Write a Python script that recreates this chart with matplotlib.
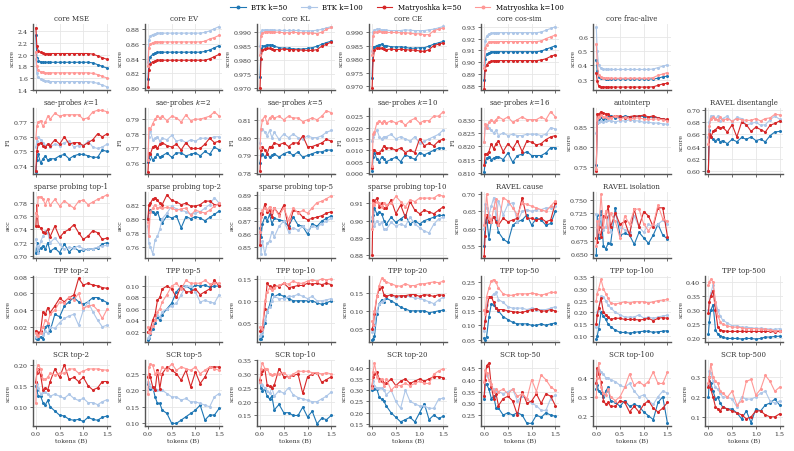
import matplotlib
matplotlib.use("Agg")
import matplotlib.pyplot as plt

plt.rcParams['font.family'] = ['DejaVu Serif']

# x positions (tokens, billions)
tokens = [0.0, 0.02, 0.05, 0.1, 0.15, 0.2, 0.25, 0.3, 0.4, 0.5,
          0.6, 0.7, 0.8, 0.9, 1.0, 1.1, 1.2, 1.3, 1.4, 1.5]

series_names = ['BTK k=50', 'BTK k=100', 'Matryoshka k=50', 'Matryoshka k=100']
series_colors = ['#1f77b4', '#aec7e8', '#d62728', '#ff9896']

# each panel: [BTK k=50, BTK k=100, Matryoshka k=50, Matryoshka k=100]
core_mse = [
    [2.33, 1.95, 1.90, 1.88, 1.87, 1.87, 1.87, 1.87, 1.87, 1.87, 1.87, 1.87, 1.87, 1.87, 1.87, 1.87, 1.86, 1.83, 1.80, 1.77],
    [1.92, 1.68, 1.62, 1.58, 1.56, 1.55, 1.55, 1.54, 1.54, 1.54, 1.54, 1.54, 1.54, 1.54, 1.54, 1.54, 1.53, 1.51, 1.48, 1.45],
    [2.46, 2.15, 2.07, 2.04, 2.03, 2.02, 2.02, 2.02, 2.02, 2.02, 2.02, 2.02, 2.02, 2.02, 2.02, 2.02, 2.01, 1.98, 1.95, 1.92],
    [2.05, 1.80, 1.73, 1.71, 1.70, 1.69, 1.69, 1.69, 1.69, 1.69, 1.69, 1.69, 1.69, 1.69, 1.69, 1.69, 1.68, 1.66, 1.63, 1.60],
]
core_ev = [
    [0.812, 0.835, 0.843, 0.846, 0.848, 0.849, 0.849, 0.849, 0.849, 0.849, 0.849, 0.849, 0.849, 0.849, 0.849, 0.849, 0.850, 0.852, 0.855, 0.858],
    [0.835, 0.865, 0.871, 0.873, 0.874, 0.875, 0.875, 0.875, 0.875, 0.875, 0.875, 0.875, 0.875, 0.875, 0.875, 0.875, 0.876, 0.878, 0.881, 0.884],
    [0.801, 0.825, 0.833, 0.836, 0.837, 0.838, 0.838, 0.838, 0.838, 0.838, 0.838, 0.838, 0.838, 0.838, 0.838, 0.838, 0.838, 0.840, 0.843, 0.846],
    [0.830, 0.855, 0.860, 0.862, 0.863, 0.863, 0.863, 0.863, 0.863, 0.863, 0.863, 0.863, 0.863, 0.863, 0.863, 0.863, 0.864, 0.867, 0.869, 0.872],
]
core_kl = [
    [0.9740, 0.9845, 0.9850, 0.9852, 0.9855, 0.9855, 0.9853, 0.9850, 0.9845, 0.9843, 0.9843, 0.9840, 0.9840, 0.9840, 0.9842, 0.9845, 0.9850, 0.9857, 0.9863, 0.9868],
    [0.9850, 0.9900, 0.9907, 0.9908, 0.9909, 0.9908, 0.9908, 0.9907, 0.9907, 0.9906, 0.9906, 0.9906, 0.9906, 0.9905, 0.9905, 0.9905, 0.9907, 0.9910, 0.9915, 0.9920],
    [0.9703, 0.9805, 0.9838, 0.9840, 0.9842, 0.9842, 0.9840, 0.9838, 0.9838, 0.9840, 0.9838, 0.9838, 0.9837, 0.9836, 0.9835, 0.9835, 0.9838, 0.9850, 0.9857, 0.9865],
    [0.9820, 0.9888, 0.9898, 0.9900, 0.9902, 0.9902, 0.9900, 0.9900, 0.9900, 0.9898, 0.9898, 0.9900, 0.9898, 0.9898, 0.9898, 0.9897, 0.9895, 0.9900, 0.9910, 0.9917],
]
core_ce = [
    [0.9730, 0.9845, 0.9845, 0.9850, 0.9852, 0.9855, 0.9850, 0.9850, 0.9845, 0.9845, 0.9845, 0.9843, 0.9840, 0.9840, 0.9842, 0.9842, 0.9848, 0.9855, 0.9860, 0.9865],
    [0.9830, 0.9900, 0.9908, 0.9910, 0.9910, 0.9908, 0.9908, 0.9906, 0.9905, 0.9905, 0.9905, 0.9908, 0.9906, 0.9905, 0.9905, 0.9905, 0.9908, 0.9910, 0.9915, 0.9920],
    [0.9693, 0.9795, 0.9835, 0.9840, 0.9840, 0.9840, 0.9838, 0.9835, 0.9837, 0.9835, 0.9836, 0.9835, 0.9833, 0.9833, 0.9830, 0.9828, 0.9835, 0.9850, 0.9855, 0.9860],
    [0.9815, 0.9885, 0.9898, 0.9900, 0.9902, 0.9900, 0.9900, 0.9898, 0.9898, 0.9898, 0.9897, 0.9897, 0.9895, 0.9893, 0.9893, 0.9890, 0.9890, 0.9905, 0.9910, 0.9915],
]
core_cossim = [
    [0.885, 0.903, 0.907, 0.908, 0.909, 0.909, 0.909, 0.909, 0.909, 0.909, 0.909, 0.909, 0.909, 0.909, 0.909, 0.909, 0.9095, 0.911, 0.9125, 0.914],
    [0.898, 0.918, 0.922, 0.924, 0.9245, 0.925, 0.925, 0.925, 0.925, 0.925, 0.925, 0.925, 0.925, 0.925, 0.925, 0.925, 0.9255, 0.927, 0.9285, 0.930],
    [0.878, 0.894, 0.898, 0.900, 0.901, 0.9015, 0.9015, 0.9015, 0.9015, 0.9015, 0.9015, 0.9015, 0.9015, 0.9015, 0.9015, 0.9015, 0.902, 0.903, 0.905, 0.9065],
    [0.895, 0.912, 0.915, 0.917, 0.9175, 0.9175, 0.9175, 0.9175, 0.9175, 0.9175, 0.9175, 0.9175, 0.9175, 0.9175, 0.9175, 0.9175, 0.918, 0.920, 0.9215, 0.923],
]
core_alive = [
    [0.44, 0.36, 0.32, 0.315, 0.31, 0.305, 0.305, 0.305, 0.305, 0.305, 0.305, 0.305, 0.305, 0.305, 0.305, 0.305, 0.305, 0.31, 0.32, 0.325],
    [0.67, 0.50, 0.40, 0.38, 0.375, 0.373, 0.372, 0.372, 0.372, 0.372, 0.372, 0.372, 0.372, 0.372, 0.372, 0.372, 0.375, 0.385, 0.395, 0.405],
    [0.35, 0.29, 0.255, 0.25, 0.25, 0.248, 0.248, 0.248, 0.248, 0.248, 0.248, 0.248, 0.248, 0.248, 0.248, 0.248, 0.25, 0.26, 0.27, 0.275],
    [0.55, 0.42, 0.33, 0.32, 0.315, 0.312, 0.31, 0.31, 0.31, 0.31, 0.31, 0.31, 0.31, 0.31, 0.31, 0.31, 0.315, 0.33, 0.34, 0.35],
]
sae_k1 = [
    [0.736, 0.744, 0.748, 0.742, 0.745, 0.747, 0.744, 0.745, 0.745, 0.747, 0.748, 0.745, 0.747, 0.748, 0.748, 0.747, 0.746, 0.746, 0.751, 0.750],
    [0.753, 0.757, 0.760, 0.758, 0.756, 0.754, 0.755, 0.753, 0.755, 0.754, 0.756, 0.757, 0.753, 0.754, 0.754, 0.757, 0.753, 0.752, 0.753, 0.755],
    [0.737, 0.750, 0.755, 0.756, 0.754, 0.753, 0.755, 0.754, 0.758, 0.755, 0.760, 0.755, 0.756, 0.756, 0.754, 0.756, 0.758, 0.762, 0.760, 0.762],
    [0.759, 0.767, 0.770, 0.771, 0.767, 0.770, 0.774, 0.772, 0.776, 0.774, 0.775, 0.775, 0.775, 0.775, 0.772, 0.773, 0.777, 0.778, 0.778, 0.777],
]
sae_k2 = [
    [0.761, 0.763, 0.766, 0.762, 0.764, 0.766, 0.764, 0.765, 0.767, 0.764, 0.767, 0.767, 0.765, 0.766, 0.767, 0.765, 0.768, 0.766, 0.771, 0.769],
    [0.762, 0.778, 0.782, 0.776, 0.777, 0.778, 0.775, 0.777, 0.776, 0.779, 0.775, 0.776, 0.774, 0.776, 0.775, 0.777, 0.777, 0.777, 0.778, 0.778],
    [0.754, 0.767, 0.766, 0.771, 0.772, 0.770, 0.773, 0.774, 0.772, 0.771, 0.773, 0.769, 0.774, 0.770, 0.770, 0.770, 0.773, 0.777, 0.774, 0.775],
    [0.762, 0.784, 0.783, 0.787, 0.790, 0.792, 0.791, 0.792, 0.789, 0.792, 0.791, 0.788, 0.793, 0.789, 0.790, 0.790, 0.791, 0.792, 0.795, 0.792],
]
sae_k5 = [
    [0.786, 0.790, 0.791, 0.789, 0.791, 0.789, 0.790, 0.791, 0.789, 0.791, 0.792, 0.790, 0.792, 0.789, 0.790, 0.791, 0.792, 0.792, 0.793, 0.793],
    [0.797, 0.804, 0.805, 0.803, 0.801, 0.804, 0.800, 0.803, 0.799, 0.802, 0.800, 0.802, 0.800, 0.799, 0.801, 0.800, 0.800, 0.801, 0.803, 0.804],
    [0.781, 0.793, 0.795, 0.793, 0.791, 0.795, 0.795, 0.797, 0.796, 0.797, 0.795, 0.797, 0.797, 0.801, 0.795, 0.795, 0.796, 0.797, 0.799, 0.798],
    [0.794, 0.805, 0.810, 0.812, 0.808, 0.811, 0.812, 0.811, 0.812, 0.810, 0.812, 0.811, 0.811, 0.809, 0.810, 0.811, 0.810, 0.812, 0.815, 0.814],
]
sae_k10 = [
    [0.001, 0.007, 0.009, 0.006, 0.005, 0.007, 0.006, 0.005, 0.006, 0.007, 0.005, 0.008, 0.007, 0.006, 0.009, 0.008, 0.009, 0.010, 0.011, 0.011],
    [0.014, 0.016, 0.017, 0.019, 0.016, 0.015, 0.016, 0.016, 0.017, 0.015, 0.016, 0.015, 0.014, 0.016, 0.013, 0.014, 0.015, 0.016, 0.017, 0.019],
    [0.002, 0.010, 0.010, 0.009, 0.009, 0.010, 0.012, 0.011, 0.011, 0.010, 0.011, 0.009, 0.010, 0.009, 0.015, 0.012, 0.013, 0.012, 0.014, 0.015],
    [0.003, 0.017, 0.018, 0.022, 0.023, 0.022, 0.023, 0.022, 0.023, 0.022, 0.023, 0.021, 0.023, 0.024, 0.022, 0.023, 0.023, 0.025, 0.025, 0.027],
]
sae_k16 = [
    [0.8105, 0.8140, 0.8155, 0.8160, 0.8150, 0.8155, 0.8160, 0.8160, 0.8150, 0.8175, 0.8140, 0.8165, 0.8170, 0.8180, 0.8165, 0.8165, 0.8165, 0.8175, 0.8195, 0.8195],
    [0.8215, 0.8270, 0.8280, 0.8270, 0.8260, 0.8250, 0.8260, 0.8240, 0.8250, 0.8240, 0.8245, 0.8240, 0.8240, 0.8245, 0.8245, 0.8245, 0.8240, 0.8245, 0.8270, 0.8265],
    [0.8130, 0.8170, 0.8170, 0.8180, 0.8210, 0.8190, 0.8210, 0.8220, 0.8180, 0.8210, 0.8190, 0.8220, 0.8180, 0.8220, 0.8215, 0.8205, 0.8210, 0.8225, 0.8235, 0.8240],
    [0.8215, 0.8285, 0.8270, 0.8290, 0.8300, 0.8290, 0.8300, 0.8310, 0.8300, 0.8310, 0.8290, 0.8300, 0.8310, 0.8300, 0.8300, 0.8300, 0.8310, 0.8300, 0.8330, 0.8310],
]
autointerp = [
    [0.755, 0.860, 0.870, 0.875, 0.870, 0.872, 0.875, 0.878, 0.872, 0.875, 0.877, 0.876, 0.875, 0.878, 0.876, 0.874, 0.875, 0.873, 0.870, 0.867],
    [0.835, 0.860, 0.862, 0.864, 0.862, 0.865, 0.867, 0.866, 0.863, 0.866, 0.865, 0.868, 0.866, 0.865, 0.862, 0.862, 0.860, 0.860, 0.858, 0.857],
    [0.740, 0.883, 0.882, 0.888, 0.885, 0.883, 0.882, 0.875, 0.878, 0.877, 0.873, 0.876, 0.878, 0.877, 0.880, 0.875, 0.878, 0.873, 0.870, 0.869],
    [0.745, 0.870, 0.876, 0.879, 0.874, 0.876, 0.873, 0.872, 0.877, 0.870, 0.874, 0.870, 0.872, 0.873, 0.870, 0.869, 0.870, 0.870, 0.868, 0.866],
]
ravel_dis = [
    [0.600, 0.668, 0.655, 0.652, 0.650, 0.652, 0.648, 0.650, 0.645, 0.652, 0.648, 0.655, 0.652, 0.656, 0.650, 0.652, 0.648, 0.658, 0.664, 0.665],
    [0.655, 0.680, 0.690, 0.690, 0.686, 0.690, 0.682, 0.686, 0.690, 0.680, 0.688, 0.686, 0.675, 0.678, 0.680, 0.675, 0.676, 0.684, 0.690, 0.685],
    [0.600, 0.660, 0.655, 0.665, 0.668, 0.672, 0.670, 0.672, 0.664, 0.676, 0.656, 0.680, 0.676, 0.665, 0.672, 0.668, 0.664, 0.675, 0.678, 0.682],
    [0.645, 0.673, 0.686, 0.688, 0.686, 0.684, 0.688, 0.683, 0.686, 0.682, 0.686, 0.684, 0.683, 0.683, 0.686, 0.682, 0.686, 0.687, 0.693, 0.692],
]
sp_top1 = [
    [0.704, 0.720, 0.708, 0.712, 0.715, 0.710, 0.720, 0.707, 0.712, 0.705, 0.718, 0.706, 0.713, 0.708, 0.709, 0.710, 0.711, 0.712, 0.718, 0.720],
    [0.725, 0.715, 0.705, 0.722, 0.730, 0.737, 0.735, 0.720, 0.727, 0.718, 0.710, 0.713, 0.712, 0.715, 0.711, 0.710, 0.711, 0.713, 0.715, 0.716],
    [0.745, 0.776, 0.745, 0.742, 0.736, 0.735, 0.740, 0.729, 0.745, 0.728, 0.736, 0.740, 0.747, 0.735, 0.725, 0.730, 0.738, 0.735, 0.725, 0.727],
    [0.765, 0.760, 0.788, 0.789, 0.785, 0.777, 0.786, 0.776, 0.785, 0.775, 0.783, 0.777, 0.772, 0.782, 0.784, 0.777, 0.781, 0.785, 0.788, 0.792],
]
sp_top2 = [
    [0.800, 0.810, 0.812, 0.810, 0.807, 0.810, 0.800, 0.794, 0.804, 0.801, 0.804, 0.787, 0.803, 0.800, 0.803, 0.801, 0.797, 0.802, 0.806, 0.811],
    [0.790, 0.765, 0.760, 0.750, 0.770, 0.775, 0.785, 0.800, 0.808, 0.818, 0.814, 0.812, 0.810, 0.806, 0.808, 0.810, 0.815, 0.820, 0.830, 0.822],
    [0.800, 0.820, 0.822, 0.828, 0.830, 0.826, 0.822, 0.820, 0.834, 0.826, 0.824, 0.820, 0.822, 0.818, 0.818, 0.820, 0.825, 0.825, 0.820, 0.820],
    [0.795, 0.775, 0.810, 0.815, 0.820, 0.815, 0.816, 0.815, 0.816, 0.815, 0.812, 0.814, 0.815, 0.805, 0.812, 0.810, 0.808, 0.812, 0.818, 0.822],
]
sp_top5 = [
    [0.865, 0.858, 0.868, 0.873, 0.870, 0.875, 0.868, 0.872, 0.871, 0.870, 0.866, 0.873, 0.867, 0.866, 0.860, 0.868, 0.866, 0.870, 0.872, 0.874],
    [0.862, 0.845, 0.855, 0.845, 0.853, 0.855, 0.862, 0.858, 0.866, 0.870, 0.862, 0.865, 0.863, 0.866, 0.863, 0.866, 0.865, 0.868, 0.870, 0.872],
    [0.852, 0.876, 0.875, 0.883, 0.877, 0.878, 0.873, 0.880, 0.875, 0.882, 0.865, 0.878, 0.877, 0.873, 0.871, 0.872, 0.873, 0.874, 0.876, 0.877],
    [0.862, 0.873, 0.878, 0.880, 0.878, 0.881, 0.877, 0.880, 0.874, 0.880, 0.871, 0.880, 0.876, 0.878, 0.876, 0.880, 0.884, 0.885, 0.887, 0.889],
]
sp_top10 = [
    [0.900, 0.903, 0.907, 0.904, 0.905, 0.904, 0.900, 0.898, 0.902, 0.899, 0.901, 0.903, 0.898, 0.900, 0.898, 0.900, 0.901, 0.902, 0.903, 0.903],
    [0.902, 0.905, 0.897, 0.900, 0.898, 0.899, 0.895, 0.895, 0.899, 0.897, 0.898, 0.897, 0.902, 0.898, 0.896, 0.894, 0.893, 0.898, 0.901, 0.902],
    [0.880, 0.912, 0.911, 0.913, 0.908, 0.910, 0.907, 0.907, 0.912, 0.904, 0.909, 0.902, 0.911, 0.906, 0.904, 0.906, 0.905, 0.904, 0.906, 0.908],
    [0.895, 0.910, 0.909, 0.911, 0.910, 0.908, 0.910, 0.909, 0.910, 0.914, 0.911, 0.908, 0.912, 0.911, 0.913, 0.913, 0.913, 0.913, 0.915, 0.914],
]
ravel_cause = [
    [0.550, 0.620, 0.635, 0.570, 0.620, 0.635, 0.625, 0.590, 0.570, 0.560, 0.610, 0.620, 0.625, 0.640, 0.610, 0.630, 0.625, 0.610, 0.615, 0.650],
    [0.600, 0.670, 0.660, 0.640, 0.665, 0.690, 0.630, 0.680, 0.640, 0.670, 0.675, 0.620, 0.650, 0.655, 0.650, 0.655, 0.655, 0.660, 0.660, 0.665],
    [0.520, 0.580, 0.640, 0.620, 0.625, 0.635, 0.620, 0.610, 0.630, 0.620, 0.625, 0.630, 0.690, 0.630, 0.630, 0.625, 0.630, 0.620, 0.625, 0.675],
    [0.610, 0.640, 0.700, 0.630, 0.620, 0.660, 0.685, 0.610, 0.690, 0.680, 0.660, 0.640, 0.675, 0.670, 0.665, 0.660, 0.655, 0.650, 0.665, 0.680],
]
ravel_iso = [
    [0.648, 0.722, 0.680, 0.730, 0.665, 0.660, 0.670, 0.668, 0.735, 0.685, 0.688, 0.685, 0.668, 0.690, 0.680, 0.670, 0.685, 0.705, 0.685, 0.678],
    [0.723, 0.700, 0.715, 0.718, 0.695, 0.700, 0.720, 0.690, 0.725, 0.700, 0.695, 0.690, 0.720, 0.700, 0.690, 0.705, 0.700, 0.705, 0.712, 0.705],
    [0.680, 0.672, 0.700, 0.682, 0.720, 0.718, 0.738, 0.700, 0.725, 0.705, 0.710, 0.685, 0.732, 0.700, 0.728, 0.720, 0.700, 0.735, 0.735, 0.682],
    [0.665, 0.710, 0.690, 0.760, 0.700, 0.730, 0.690, 0.725, 0.710, 0.680, 0.720, 0.705, 0.732, 0.733, 0.705, 0.693, 0.705, 0.740, 0.715, 0.710],
]
tpp_2 = [
    [0.007, 0.006, 0.005, 0.008, 0.005, 0.020, 0.022, 0.015, 0.035, 0.032, 0.045, 0.050, 0.055, 0.050, 0.047, 0.050, 0.055, 0.055, 0.052, 0.049],
    [0.008, 0.010, 0.012, 0.012, 0.010, 0.015, 0.012, 0.020, 0.018, 0.025, 0.030, 0.033, 0.035, 0.022, 0.040, 0.050, 0.038, 0.028, 0.020, 0.022],
    [0.015, 0.014, 0.012, 0.015, 0.038, 0.035, 0.043, 0.037, 0.045, 0.054, 0.050, 0.055, 0.058, 0.078, 0.070, 0.072, 0.070, 0.069, 0.067, 0.066],
    [0.012, 0.010, 0.009, 0.013, 0.020, 0.028, 0.025, 0.035, 0.040, 0.050, 0.048, 0.056, 0.052, 0.060, 0.042, 0.045, 0.046, 0.040, 0.030, 0.041],
]
tpp_5 = [
    [0.005, 0.008, 0.015, 0.025, 0.035, 0.045, 0.040, 0.050, 0.060, 0.070, 0.090, 0.100, 0.100, 0.095, 0.102, 0.100, 0.102, 0.098, 0.100, 0.100],
    [0.008, 0.010, 0.020, 0.030, 0.040, 0.050, 0.045, 0.055, 0.060, 0.065, 0.070, 0.085, 0.100, 0.100, 0.090, 0.072, 0.075, 0.072, 0.070, 0.085],
    [0.020, 0.020, 0.025, 0.040, 0.050, 0.075, 0.080, 0.095, 0.100, 0.095, 0.080, 0.100, 0.090, 0.090, 0.095, 0.085, 0.090, 0.095, 0.110, 0.100],
    [0.028, 0.020, 0.018, 0.030, 0.040, 0.055, 0.060, 0.072, 0.085, 0.100, 0.105, 0.095, 0.110, 0.105, 0.105, 0.105, 0.110, 0.104, 0.105, 0.105],
]
tpp_10 = [
    [0.012, 0.013, 0.020, 0.050, 0.075, 0.090, 0.115, 0.110, 0.115, 0.110, 0.105, 0.100, 0.100, 0.100, 0.100, 0.100, 0.095, 0.092, 0.095, 0.100],
    [0.020, 0.025, 0.030, 0.055, 0.075, 0.085, 0.100, 0.110, 0.105, 0.105, 0.110, 0.110, 0.115, 0.110, 0.105, 0.110, 0.100, 0.100, 0.102, 0.105],
    [0.030, 0.032, 0.040, 0.080, 0.140, 0.133, 0.130, 0.135, 0.132, 0.140, 0.130, 0.132, 0.135, 0.135, 0.140, 0.138, 0.140, 0.137, 0.140, 0.137],
    [0.040, 0.040, 0.035, 0.100, 0.120, 0.130, 0.125, 0.130, 0.135, 0.140, 0.138, 0.145, 0.140, 0.140, 0.145, 0.148, 0.145, 0.150, 0.148, 0.150],
]
tpp_20 = [
    [0.020, 0.022, 0.030, 0.090, 0.120, 0.130, 0.125, 0.135, 0.128, 0.120, 0.110, 0.105, 0.100, 0.100, 0.100, 0.100, 0.095, 0.097, 0.100, 0.102],
    [0.040, 0.045, 0.060, 0.100, 0.120, 0.125, 0.130, 0.140, 0.145, 0.135, 0.140, 0.140, 0.140, 0.135, 0.135, 0.130, 0.125, 0.120, 0.130, 0.138],
    [0.050, 0.060, 0.090, 0.140, 0.160, 0.165, 0.145, 0.140, 0.145, 0.140, 0.142, 0.142, 0.145, 0.145, 0.140, 0.145, 0.143, 0.140, 0.145, 0.143],
    [0.072, 0.060, 0.100, 0.140, 0.170, 0.190, 0.185, 0.180, 0.175, 0.170, 0.168, 0.175, 0.170, 0.170, 0.175, 0.175, 0.178, 0.180, 0.178, 0.182],
]
tpp_50 = [
    [0.055, 0.050, 0.060, 0.130, 0.175, 0.170, 0.160, 0.150, 0.130, 0.120, 0.110, 0.105, 0.105, 0.105, 0.100, 0.100, 0.105, 0.100, 0.105, 0.108],
    [0.080, 0.120, 0.170, 0.200, 0.200, 0.210, 0.215, 0.190, 0.180, 0.165, 0.160, 0.160, 0.160, 0.155, 0.160, 0.155, 0.155, 0.155, 0.160, 0.165],
    [0.090, 0.115, 0.150, 0.200, 0.200, 0.180, 0.160, 0.155, 0.155, 0.150, 0.148, 0.145, 0.145, 0.150, 0.155, 0.158, 0.150, 0.150, 0.155, 0.150],
    [0.155, 0.140, 0.200, 0.230, 0.255, 0.260, 0.250, 0.230, 0.210, 0.205, 0.205, 0.210, 0.210, 0.210, 0.212, 0.210, 0.205, 0.210, 0.215, 0.215],
]
tpp_100 = [
    [0.085, 0.100, 0.130, 0.200, 0.185, 0.170, 0.150, 0.140, 0.125, 0.115, 0.115, 0.112, 0.115, 0.118, 0.120, 0.120, 0.115, 0.118, 0.120, 0.122],
    [0.140, 0.200, 0.210, 0.270, 0.265, 0.250, 0.230, 0.220, 0.200, 0.190, 0.180, 0.180, 0.180, 0.190, 0.175, 0.180, 0.175, 0.180, 0.185, 0.188],
    [0.150, 0.190, 0.220, 0.260, 0.200, 0.190, 0.180, 0.170, 0.175, 0.175, 0.170, 0.170, 0.170, 0.168, 0.170, 0.175, 0.165, 0.175, 0.178, 0.175],
    [0.250, 0.280, 0.300, 0.340, 0.300, 0.280, 0.260, 0.240, 0.235, 0.240, 0.245, 0.240, 0.245, 0.245, 0.245, 0.240, 0.245, 0.250, 0.252, 0.255],
]
tpp_500 = [
    [0.215, 0.260, 0.300, 0.320, 0.230, 0.215, 0.210, 0.205, 0.200, 0.200, 0.200, 0.198, 0.200, 0.200, 0.198, 0.200, 0.205, 0.205, 0.207, 0.208],
    [0.300, 0.330, 0.360, 0.390, 0.330, 0.300, 0.280, 0.265, 0.255, 0.245, 0.245, 0.240, 0.240, 0.238, 0.236, 0.236, 0.235, 0.233, 0.232, 0.235],
    [0.290, 0.330, 0.350, 0.370, 0.300, 0.240, 0.230, 0.228, 0.225, 0.225, 0.225, 0.225, 0.225, 0.225, 0.225, 0.225, 0.225, 0.225, 0.223, 0.225],
    [0.390, 0.400, 0.410, 0.400, 0.330, 0.280, 0.260, 0.250, 0.245, 0.240, 0.240, 0.238, 0.235, 0.235, 0.235, 0.233, 0.232, 0.230, 0.228, 0.228],
]
scr_2 = [
    [0.150, 0.140, 0.125, 0.125, 0.110, 0.105, 0.115, 0.100, 0.090, 0.080, 0.078, 0.070, 0.068, 0.070, 0.065, 0.075, 0.070, 0.068, 0.075, 0.078],
    [0.160, 0.155, 0.145, 0.130, 0.135, 0.135, 0.130, 0.125, 0.130, 0.125, 0.120, 0.130, 0.120, 0.115, 0.120, 0.110, 0.110, 0.105, 0.112, 0.117],
    [0.160, 0.180, 0.190, 0.175, 0.140, 0.145, 0.140, 0.160, 0.190, 0.170, 0.200, 0.165, 0.170, 0.160, 0.170, 0.150, 0.140, 0.145, 0.160, 0.160],
    [0.110, 0.190, 0.200, 0.190, 0.165, 0.165, 0.170, 0.180, 0.175, 0.180, 0.180, 0.190, 0.190, 0.180, 0.185, 0.190, 0.190, 0.190, 0.188, 0.187],
]
scr_5 = [
    [0.220, 0.210, 0.205, 0.210, 0.180, 0.160, 0.160, 0.140, 0.130, 0.100, 0.100, 0.110, 0.120, 0.130, 0.140, 0.155, 0.110, 0.125, 0.125, 0.145],
    [0.225, 0.220, 0.210, 0.205, 0.205, 0.200, 0.200, 0.200, 0.190, 0.180, 0.180, 0.170, 0.175, 0.165, 0.165, 0.160, 0.155, 0.150, 0.180, 0.190],
    [0.240, 0.250, 0.240, 0.210, 0.200, 0.260, 0.205, 0.250, 0.270, 0.260, 0.250, 0.230, 0.260, 0.210, 0.255, 0.220, 0.240, 0.270, 0.270, 0.270],
    [0.190, 0.270, 0.280, 0.275, 0.250, 0.255, 0.250, 0.270, 0.260, 0.280, 0.260, 0.270, 0.265, 0.260, 0.270, 0.250, 0.260, 0.270, 0.265, 0.260],
]
scr_10 = [
    [0.270, 0.250, 0.240, 0.245, 0.220, 0.210, 0.220, 0.170, 0.190, 0.160, 0.160, 0.150, 0.150, 0.180, 0.145, 0.165, 0.120, 0.140, 0.135, 0.150],
    [0.270, 0.265, 0.260, 0.250, 0.240, 0.230, 0.250, 0.220, 0.240, 0.230, 0.250, 0.225, 0.215, 0.210, 0.205, 0.200, 0.200, 0.210, 0.220, 0.235],
    [0.280, 0.300, 0.310, 0.320, 0.260, 0.255, 0.250, 0.260, 0.320, 0.290, 0.290, 0.295, 0.300, 0.230, 0.290, 0.300, 0.305, 0.270, 0.280, 0.290],
    [0.270, 0.320, 0.340, 0.320, 0.320, 0.300, 0.295, 0.300, 0.300, 0.305, 0.290, 0.300, 0.310, 0.310, 0.310, 0.305, 0.305, 0.300, 0.305, 0.300],
]
scr_20 = [
    [0.300, 0.305, 0.305, 0.305, 0.270, 0.260, 0.250, 0.230, 0.200, 0.180, 0.160, 0.170, 0.180, 0.160, 0.200, 0.240, 0.170, 0.190, 0.175, 0.185],
    [0.320, 0.340, 0.320, 0.310, 0.310, 0.310, 0.300, 0.280, 0.300, 0.250, 0.220, 0.300, 0.250, 0.240, 0.230, 0.230, 0.220, 0.220, 0.260, 0.265],
    [0.320, 0.360, 0.370, 0.380, 0.350, 0.340, 0.330, 0.330, 0.350, 0.320, 0.340, 0.350, 0.330, 0.340, 0.350, 0.340, 0.350, 0.360, 0.360, 0.355],
    [0.310, 0.380, 0.420, 0.360, 0.340, 0.350, 0.320, 0.350, 0.300, 0.320, 0.320, 0.330, 0.320, 0.330, 0.340, 0.330, 0.330, 0.370, 0.385, 0.395],
]
scr_50 = [
    [0.320, 0.380, 0.380, 0.360, 0.320, 0.330, 0.280, 0.280, 0.250, 0.260, 0.250, 0.260, 0.250, 0.215, 0.215, 0.250, 0.240, 0.260, 0.250, 0.245],
    [0.330, 0.400, 0.420, 0.400, 0.370, 0.360, 0.350, 0.350, 0.340, 0.350, 0.360, 0.310, 0.330, 0.320, 0.300, 0.290, 0.270, 0.270, 0.320, 0.335],
    [0.330, 0.400, 0.460, 0.470, 0.370, 0.320, 0.340, 0.290, 0.320, 0.330, 0.310, 0.250, 0.350, 0.300, 0.310, 0.340, 0.300, 0.340, 0.330, 0.290],
    [0.390, 0.440, 0.430, 0.400, 0.380, 0.350, 0.360, 0.350, 0.360, 0.340, 0.360, 0.330, 0.340, 0.320, 0.400, 0.350, 0.420, 0.400, 0.370, 0.355],
]
scr_100 = [
    [0.340, 0.360, 0.330, 0.320, 0.300, 0.330, 0.350, 0.280, 0.270, 0.250, 0.280, 0.250, 0.260, 0.250, 0.220, 0.200, 0.180, 0.270, 0.300, 0.160],
    [0.370, 0.440, 0.440, 0.430, 0.420, 0.400, 0.400, 0.390, 0.380, 0.360, 0.350, 0.370, 0.330, 0.300, 0.310, 0.280, 0.260, 0.300, 0.330, 0.320],
    [0.370, 0.450, 0.420, 0.380, 0.280, 0.260, 0.270, 0.250, 0.250, 0.280, 0.270, 0.220, 0.250, 0.220, 0.260, 0.280, 0.240, 0.220, 0.240, 0.270],
    [0.300, 0.400, 0.480, 0.350, 0.320, 0.310, 0.340, 0.300, 0.280, 0.300, 0.350, 0.420, 0.360, 0.380, 0.360, 0.380, 0.430, 0.370, 0.370, 0.430],
]
scr_500 = [
    [0.200, 0.280, 0.270, 0.230, 0.190, 0.200, 0.170, 0.150, 0.140, 0.140, 0.120, 0.090, 0.130, 0.070, 0.140, 0.130, 0.160, 0.170, 0.190, 0.160],
    [0.260, 0.330, 0.320, 0.280, 0.250, 0.240, 0.220, 0.200, 0.200, 0.190, 0.150, 0.200, 0.190, 0.190, 0.200, 0.220, 0.230, 0.180, 0.170, 0.180],
    [0.250, 0.300, 0.240, 0.200, 0.150, 0.140, 0.130, 0.150, 0.140, 0.130, 0.120, 0.110, 0.090, 0.100, 0.130, 0.130, 0.110, 0.100, 0.100, 0.115],
    [0.270, 0.300, 0.370, 0.300, 0.280, 0.270, 0.230, 0.220, 0.200, 0.230, 0.160, 0.180, 0.280, 0.290, 0.210, 0.240, 0.310, 0.280, 0.230, 0.250],
]

# (title, y label, data, y tick values, y limits)
panels = [
    [('core MSE', 'score', core_mse, [1.4, 1.6, 1.8, 2.0, 2.2, 2.4], (1.39, 2.52)),
     ('core EV', 'score', core_ev, [0.80, 0.82, 0.84, 0.86, 0.88], (0.797, 0.887)),
     ('core KL', 'score', core_kl, [0.970, 0.975, 0.980, 0.985, 0.990], (0.9693, 0.9928)),
     ('core CE', 'score', core_ce, [0.970, 0.975, 0.980, 0.985, 0.990], (0.9685, 0.9928)),
     ('core cos-sim', 'score', core_cossim, [0.88, 0.89, 0.90, 0.91, 0.92, 0.93], (0.8765, 0.932)),
     ('core frac-alive', 'score', core_alive, [0.3, 0.4, 0.5, 0.6], (0.225, 0.69)),
     None],
    [('sae-probes $k$=1', 'F1', sae_k1, [0.74, 0.75, 0.76, 0.77, 0.78], (0.7345, 0.7795)),
     ('sae-probes $k$=2', 'F1', sae_k2, [0.76, 0.77, 0.78, 0.79], (0.7525, 0.7975)),
     ('sae-probes $k$=5', 'F1', sae_k5, [0.78, 0.79, 0.80, 0.81], (0.7795, 0.8165)),
     ('sae-probes $k$=10', 'F1', sae_k10, [0.000, 0.005, 0.010, 0.015, 0.020, 0.025], (-0.0005, 0.0285)),
     ('sae-probes $k$=16', 'F1', sae_k16, [0.810, 0.815, 0.820, 0.825, 0.830], (0.8095, 0.8343)),
     ('autointerp', 'score', autointerp, [0.75, 0.80, 0.85], (0.733, 0.897)),
     ('RAVEL disentangle', 'score', ravel_dis, [0.60, 0.62, 0.64, 0.66, 0.68, 0.70], (0.595, 0.703))],
    [('sparse probing top-1', 'acc', sp_top1, [0.70, 0.72, 0.74, 0.76, 0.78], (0.697, 0.796)),
     ('sparse probing top-2', 'acc', sp_top2, [0.76, 0.78, 0.80, 0.82], (0.744, 0.838)),
     ('sparse probing top-5', 'acc', sp_top5, [0.85, 0.86, 0.87, 0.88, 0.89], (0.842, 0.892)),
     ('sparse probing top-10', 'acc', sp_top10, [0.88, 0.89, 0.90, 0.91], (0.8785, 0.9165)),
     ('RAVEL cause', 'score', ravel_cause, [0.55, 0.60, 0.65, 0.70], (0.515, 0.706)),
     ('RAVEL isolation', 'score', ravel_iso, [0.650, 0.675, 0.700, 0.725, 0.750], (0.643, 0.764)),
     None],
    [('TPP top-2', 'score', tpp_2, [0.02, 0.04, 0.06, 0.08], (0.002, 0.081)),
     ('TPP top-5', 'score', tpp_5, [0.02, 0.04, 0.06, 0.08, 0.10], (0.002, 0.118)),
     ('TPP top-10', 'score', tpp_10, [0.05, 0.10, 0.15], (0.006, 0.157)),
     ('TPP top-20', 'score', tpp_20, [0.05, 0.10, 0.15], (0.014, 0.197)),
     ('TPP top-50', 'score', tpp_50, [0.05, 0.10, 0.15, 0.20, 0.25], (0.042, 0.273)),
     ('TPP top-100', 'score', tpp_100, [0.10, 0.15, 0.20, 0.25, 0.30, 0.35], (0.075, 0.355)),
     ('TPP top-500', 'score', tpp_500, [0.20, 0.25, 0.30, 0.35, 0.40], (0.188, 0.422))],
    [('SCR top-2', 'score', scr_2, [0.10, 0.15, 0.20], (0.055, 0.212)),
     ('SCR top-5', 'score', scr_5, [0.10, 0.15, 0.20, 0.25], (0.093, 0.292)),
     ('SCR top-10', 'score', scr_10, [0.15, 0.20, 0.25, 0.30, 0.35], (0.113, 0.352)),
     ('SCR top-20', 'score', scr_20, [0.15, 0.20, 0.25, 0.30, 0.35, 0.40], (0.143, 0.435)),
     ('SCR top-50', 'score', scr_50, [0.25, 0.30, 0.35, 0.40, 0.45], (0.205, 0.485)),
     ('SCR top-100', 'score', scr_100, [0.2, 0.3, 0.4], (0.148, 0.495)),
     ('SCR top-500', 'score', scr_500, [0.1, 0.2, 0.3], (0.055, 0.39))],
]

fig, axes = plt.subplots(5, 7, figsize=(7.94, 4.52), dpi=100)
fig.subplots_adjust(left=0.041, right=0.986, top=0.944, bottom=0.056, wspace=0.44, hspace=0.27)

text_color = '#333333'
spine_color = '#555555'

for r, row in enumerate(panels):
    for c, panel in enumerate(row):
        ax = axes[r, c]
        if panel is None:
            ax.axis('off')
            continue
        title, ylabel, data, yticks, ylim = panel
        for vals, name, col in zip(data, series_names, series_colors):
            ax.plot(tokens, vals, color=col, lw=0.8, marker='o', ms=1.2, label=name)
        ax.set_title(title, fontsize=5, pad=3, color=text_color)
        ax.set_ylabel(ylabel, fontsize=4.5, labelpad=2, color=text_color)
        ax.set_yticks(yticks)
        ax.set_ylim(*ylim)
        ax.set_xticks([0.0, 0.5, 1.0, 1.5])
        ax.set_xlim(-0.07, 1.57)
        ax.grid(True, color='#e6e6e6', lw=0.6)
        ax.set_axisbelow(True)
        for s in ['top', 'right']:
            ax.spines[s].set_visible(False)
        for s in ['left', 'bottom']:
            ax.spines[s].set_color(spine_color)
            ax.spines[s].set_linewidth(1.0)
        ax.tick_params(axis='both', labelsize=4.5, length=2, width=0.6, pad=1.5,
                       colors=spine_color, labelcolor=text_color)
        if r == 4:
            ax.set_xlabel('tokens (B)', fontsize=4.5, labelpad=1.5, color=text_color)
        else:
            ax.tick_params(axis='x', labelbottom=False)

handles, labels = axes[0, 0].get_legend_handles_labels()
fig.legend(handles, labels, loc='upper center', bbox_to_anchor=(0.5, 1.005), ncol=4,
           frameon=False, fontsize=5, handlelength=2.2, columnspacing=2.0,
           markerscale=1.5)

fig.savefig('out.png', dpi=100)
